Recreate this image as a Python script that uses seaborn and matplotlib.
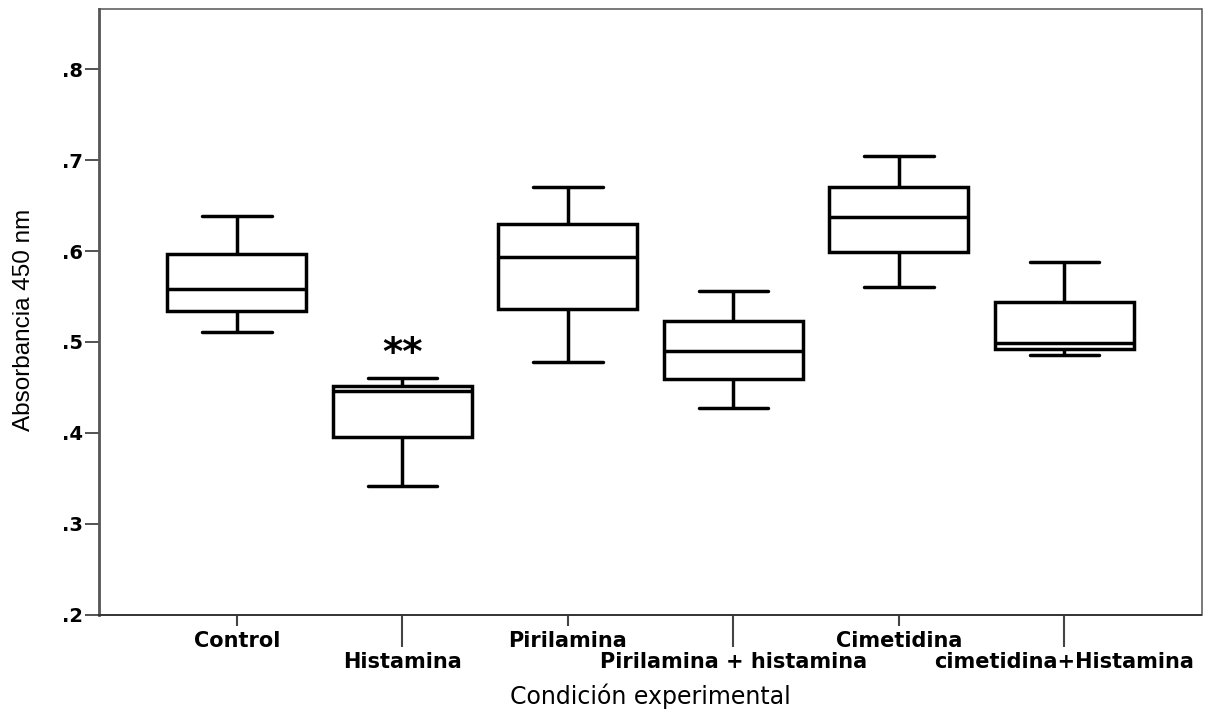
import matplotlib
matplotlib.use("Agg")
import matplotlib.pyplot as plt
import seaborn as sns
import pandas as pd
from matplotlib.ticker import FuncFormatter

# ---- data (five-number summaries) ----
categories = ["Control", "Histamina", "Pirilamina", "Pirilamina + histamina",
              "Cimetidina", "cimetidina+Histamina"]
whisker_low = [0.511, 0.342, 0.478, 0.427, 0.561, 0.486]
q1          = [0.534, 0.395, 0.536, 0.459, 0.599, 0.492]
median      = [0.558, 0.446, 0.5935, 0.490, 0.6375, 0.499]
q3          = [0.597, 0.452, 0.630, 0.523, 0.671, 0.544]
whisker_high = [0.639, 0.460, 0.670, 0.556, 0.705, 0.588]
y_ticks = [0.2, 0.3, 0.4, 0.5, 0.6, 0.7, 0.8]
annotation_cat = "Histamina"
annotation_text = "**"
annotation_y = 0.487

rows = []
for c, a, b, m, d, e in zip(categories, whisker_low, q1, median, q3, whisker_high):
    for v in (a, b, m, d, e):
        rows.append({"cond": c, "abs": v})
df = pd.DataFrame(rows)

sns.set_style("white")
plt.rcParams["font.family"] = ["DejaVu Sans"]
plt.rcParams["text.color"] = "black"
plt.rcParams["axes.labelcolor"] = "black"
plt.rcParams["xtick.color"] = "black"
plt.rcParams["ytick.color"] = "black"

fig = plt.figure(figsize=(12.09, 7.15), dpi=100)
ax = fig.add_axes([99.3 / 1209, 100.3 / 715, (1201.5 - 99.3) / 1209, (614.7 - 9.3) / 715])

sns.boxplot(data=df, x="cond", y="abs", order=categories, ax=ax,
            whis=(0, 100), width=0.84, color="white", linecolor="black",
            linewidth=2.5, saturation=1, showfliers=False)

ax.set_xlim(-0.831, 5.828)
ax.set_ylim(0.2, 0.866)

# y axis
ax.set_yticks(y_ticks)
ax.yaxis.set_major_formatter(FuncFormatter(lambda v, p: ("%.1f" % v).lstrip("0")))
ax.tick_params(axis="y", which="major", left=True, length=10, width=1.3,
               color="#444444", labelcolor="black", pad=1.5, labelsize=14)
for lab in ax.get_yticklabels():
    lab.set_fontweight("bold")

# x axis: alternating short/long ticks
even_idx = [0, 2, 4]
odd_idx = [1, 3, 5]
ax.set_xticks(even_idx, labels=[categories[i] for i in even_idx])
ax.set_xticks(odd_idx, labels=[categories[i] for i in odd_idx], minor=True)
ax.tick_params(axis="x", which="major", bottom=True, length=8, width=1.5,
               color="#444444", labelcolor="black", pad=4, labelsize=15)
ax.tick_params(axis="x", which="minor", bottom=True, length=23, width=1.5,
               color="#444444", labelcolor="black", pad=4, labelsize=15)
for lab in ax.get_xticklabels() + ax.get_xticklabels(minor=True):
    lab.set_fontweight("bold")

# spines
for side in ["top", "right", "bottom"]:
    ax.spines[side].set_visible(True)
    ax.spines[side].set_color("#555555")
    ax.spines[side].set_linewidth(1.1)
ax.spines["left"].set_color("#555555")
ax.spines["left"].set_linewidth(2.0)
ax.spines["bottom"].set_color("#333333")
ax.spines["bottom"].set_linewidth(1.4)

# labels
ax.set_ylabel("Absorbancia 450 nm", fontsize=17.5, color="black",
              family=["Liberation Sans Narrow", "Liberation Sans", "DejaVu Sans"])
ax.yaxis.set_label_coords(-0.0584, 0.487)
ax.set_xlabel("Condición experimental", fontsize=17, color="black")
ax.xaxis.set_label_coords(0.5, -0.113)

# significance annotation
ax.text(categories.index(annotation_cat), annotation_y, annotation_text,
        ha="center", va="center", fontsize=28, fontweight="bold", color="black")

fig.savefig("out.png", dpi=100)
